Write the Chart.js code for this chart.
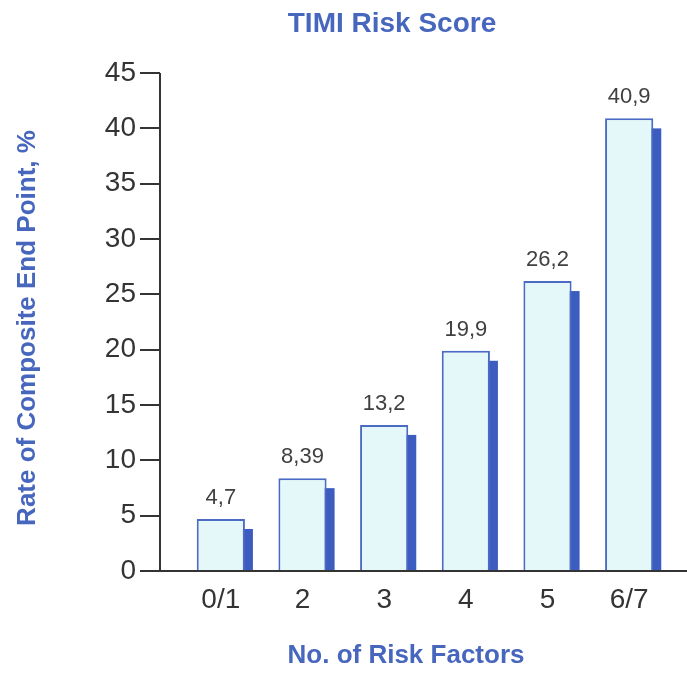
<!DOCTYPE html>
<html>
<head>
<meta charset="utf-8">
<script src="https://cdn.jsdelivr.net/npm/chart.js@4"></script>
<style>
  body { margin: 0; background: #fff; }
  canvas { display: block; }
</style>
</head>
<body>
<canvas id="chart" width="687" height="680"></canvas>
<script>
const categories = ["0/1", "2", "3", "4", "5", "6/7"];
const rates = [4.7, 8.39, 13.2, 19.9, 26.2, 40.9];
const yMax = 45;
const yStep = 5;

const titleBlue = "#4766bd";
const inkGray = "#343434";

// dark blue block behind each bar, shifted right and down
const barShadow = {
    id: "barShadow",
    beforeDatasetsDraw(chart) {
        const ctx = chart.ctx;
        ctx.save();
        ctx.fillStyle = "#3d5cc0";
        chart.getDatasetMeta(0).data.forEach((bar) => {
            const { x, y, base, width } = bar.getProps(["x", "y", "base", "width"], true);
            ctx.fillRect(x - width / 2 + 8, y + 10, width, base - y - 10);
        });
        ctx.restore();
    },
};

// axis lines sit a little to the left of the first bar slot
const axisLines = {
    id: "axisLines",
    afterDatasetsDraw(chart) {
        const { ctx, chartArea, scales } = chart;
        const y = scales.y;
        const axisX = chartArea.left - 20;
        const zero = y.getPixelForValue(0);
        ctx.save();
        ctx.strokeStyle = inkGray;
        ctx.lineWidth = 2;
        ctx.beginPath();
        ctx.moveTo(axisX, y.getPixelForValue(yMax));
        ctx.lineTo(axisX, zero);
        y.ticks.forEach((t) => {
            const py = Math.round(y.getPixelForValue(t.value));
            ctx.moveTo(axisX - 20, py);
            ctx.lineTo(axisX, py);
        });
        ctx.moveTo(axisX - 15, zero);
        ctx.lineTo(chart.width, zero);
        ctx.stroke();

        // value above every bar, decimal comma
        ctx.fillStyle = "#404040";
        ctx.font = "22px 'Liberation Sans', Arial, sans-serif";
        ctx.textAlign = "center";
        ctx.textBaseline = "alphabetic";
        chart.getDatasetMeta(0).data.forEach((bar, i) => {
            ctx.fillText(String(rates[i]).replace(".", ","), bar.x, bar.y - 15);
        });
        ctx.restore();
    },
};

const captions = {
    id: "captions",
    afterDraw(chart) {
        const { ctx, chartArea } = chart;
        ctx.save();
        ctx.fillStyle = titleBlue;
        ctx.textAlign = "center";
        ctx.textBaseline = "alphabetic";
        ctx.font = "bold 28px 'Liberation Sans', Arial, sans-serif";
        ctx.fillText("TIMI Risk Score", 392, 32);
        ctx.font = "bold 26px 'Liberation Sans', Arial, sans-serif";
        ctx.fillText("No. of Risk Factors", 406, 663);
        ctx.translate(35, (chartArea.top + chartArea.bottom) / 2 + 6);
        ctx.rotate(-Math.PI / 2);
        ctx.fillText("Rate of Composite End Point, %", 0, 0);
        ctx.restore();
    },
};

new Chart(document.getElementById("chart"), {
    type: "bar",
    data: {
        labels: categories,
        datasets: [
            {
                data: rates,
                backgroundColor: "#e4f8fa",
                borderColor: "#4a6ac4",
                borderWidth: 2,
                categoryPercentage: 1,
                barPercentage: 0.59,
            },
        ],
    },
    options: {
        responsive: false,
        animation: false,
        layout: { padding: { top: 73, right: 17, bottom: 0, left: 0 } },
        plugins: {
            legend: { display: false },
            tooltip: { enabled: false },
        },
        scales: {
            x: {
                grid: { display: false, drawTicks: false },
                border: { display: false },
                ticks: {
                    color: inkGray,
                    padding: 12,
                    font: { family: "'Liberation Sans', Arial, sans-serif", size: 28 },
                },
                afterFit(scale) { scale.height = 109; },
            },
            y: {
                min: 0,
                max: yMax,
                grid: { display: false, drawTicks: false },
                border: { display: false },
                ticks: {
                    stepSize: yStep,
                    color: inkGray,
                    padding: 44,
                    font: { family: "'Liberation Sans', Arial, sans-serif", size: 28 },
                },
                afterFit(scale) { scale.width = 180; },
            },
        },
    },
    plugins: [barShadow, axisLines, captions],
});
</script>
</body>
</html>
